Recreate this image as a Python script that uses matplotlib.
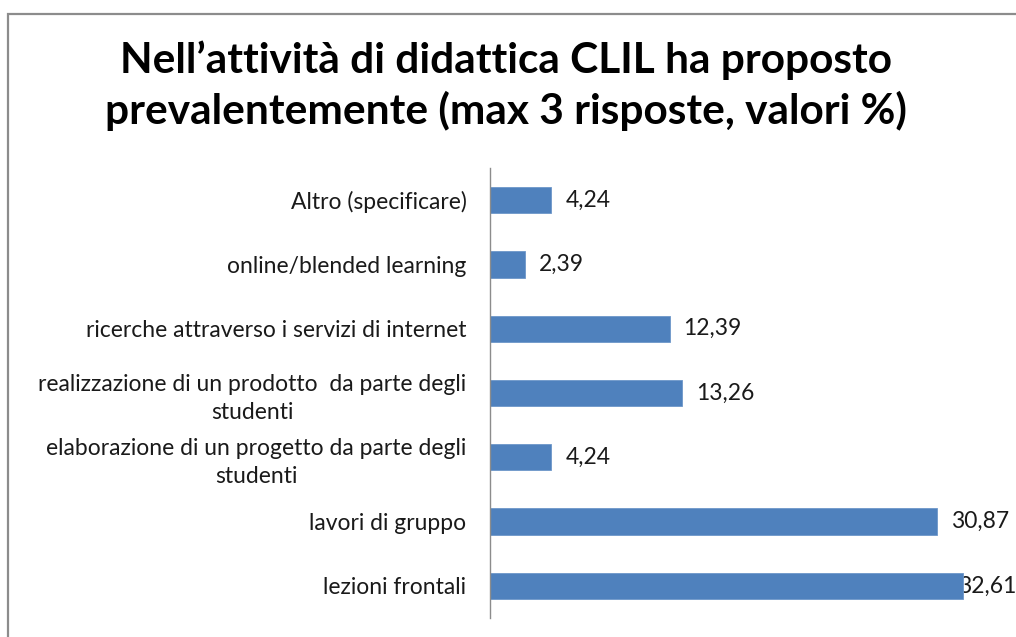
import matplotlib
matplotlib.use("Agg")
import matplotlib.pyplot as plt
from matplotlib.patches import Rectangle

categories = [
    "lezioni frontali",
    "lavori di gruppo",
    "elaborazione di un progetto da parte degli\nstudenti",
    "realizzazione di un prodotto  da parte degli\nstudenti",
    "ricerche attraverso i servizi di internet",
    "online/blended learning",
    "Altro (specificare)",
]
values = [32.61, 30.87, 4.24, 13.26, 12.39, 2.39, 4.24]
value_labels = ["32,61", "30,87", "4,24", "13,26", "12,39", "2,39", "4,24"]
title = "Nell’attività di didattica CLIL ha proposto\nprevalentemente (max 3 risposte, valori %)"

W, H = 1016, 637
fig = plt.figure(figsize=(W / 100, H / 100), dpi=100)
fig.patch.set_facecolor("white")

# chart border
fig.add_artist(Rectangle((8 / W, -0.1), 1.2, (H - 14) / H + 0.1, transform=fig.transFigure,
                         fill=False, edgecolor="#8c8c8c", linewidth=1.6))

ax = fig.add_axes([490 / W, 1 - 618 / H, 526 / W, 450 / H])
ax.set_facecolor("none")
y = list(range(len(categories)))
ax.barh(y, values, height=0.41, color="#4F81BD", edgecolor="#6d97c9", linewidth=0.6, zorder=3)
xmax = 36.3
ax.set_xlim(0, xmax)
ax.set_ylim(-0.5, len(categories) - 0.5)
ax.set_yticks(y)
ax.set_yticklabels(categories, fontsize=16.5, family="Lato", color="#1a1a1a",
                   multialignment="center", linespacing=1.4)
ax.tick_params(axis="y", length=0, pad=17)
ax.set_xticks([])
for s in ["top", "right", "bottom"]:
    ax.spines[s].set_visible(False)
ax.spines["left"].set_color("#8c8c8c")
ax.spines["left"].set_linewidth(1.0)
ax.spines["left"].set_zorder(4)

for yi, v, lab in zip(y, values, value_labels):
    if v > xmax * 0.88:
        ax.text(xmax, yi, lab, va="center", ha="right", fontsize=16.5, family="Lato",
                color="#1a1a1a", zorder=2)
    else:
        ax.annotate(lab, (v, yi), xytext=(10, 0), textcoords="offset points",
                    va="center", ha="left", fontsize=16.5, family="Lato", color="#1a1a1a",
                    annotation_clip=False, zorder=2)

fig.text(506 / W, 1 - 86 / H, title, ha="center", va="center", fontsize=30.5,
         fontweight="bold", family="Lato", linespacing=1.32, color="black")

fig.savefig("out.png", dpi=100)
